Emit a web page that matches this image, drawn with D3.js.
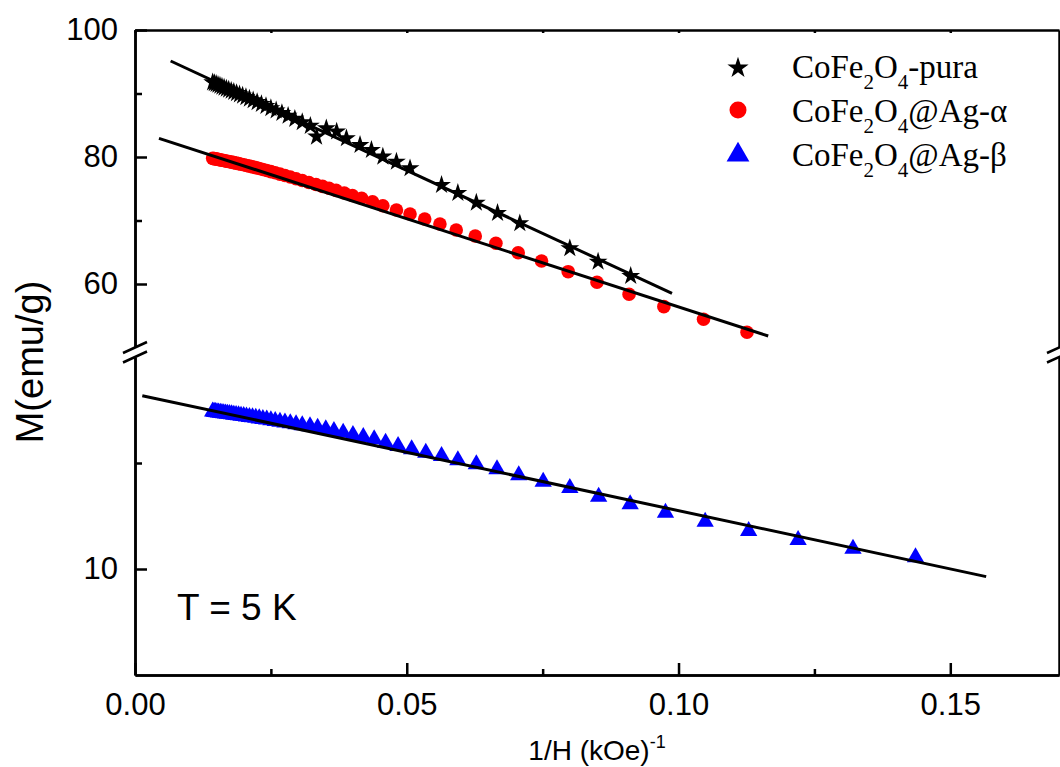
<!DOCTYPE html>
<html>
<head>
<meta charset="utf-8">
<script src="https://d3js.org/d3.v7.min.js"></script>
<style>
body { margin: 0; background: #fff; }
svg text { font-family: Arial, "Liberation Sans", sans-serif; fill: #000; }
.domain, .tick line { stroke: #000; stroke-width: 2.5; }
</style>
</head>
<body>
<div id="chart"></div>
<script>

// CoFe2O4-pura (black stars)
var starX = [0.01429, 0.0146, 0.01493, 0.01527, 0.01563, 0.016, 0.01639, 0.01681, 0.01724, 0.0177,
    0.01818, 0.01869, 0.01923, 0.0198, 0.02041, 0.02105, 0.02174, 0.02247, 0.02326, 0.0241,
    0.025, 0.02597, 0.02703, 0.02817, 0.02941, 0.03077, 0.03226,
    0.0334, 0.0352, 0.0371, 0.0389, 0.0414, 0.0435, 0.0456, 0.0481, 0.0506,
    0.0564, 0.0594, 0.0628, 0.0667, 0.0708, 0.0800, 0.0852, 0.0912];
var starY = [91.75, 91.63, 91.5, 91.36, 91.22, 91.07, 90.92, 90.75, 90.6, 90.42,
    90.25, 90.05, 89.85, 89.65, 89.42, 89.18, 88.92, 88.64, 88.34, 88.02,
    87.68, 87.32, 86.92, 86.48, 86.0, 85.48, 84.9,
    83.2, 84.5, 84.0, 82.94, 81.89, 81.1, 80.05, 79.26, 78.22,
    75.59, 74.33, 72.8, 71.18, 69.56, 65.62, 63.51, 61.26];

// CoFe2O4@Ag-alpha (red circles)
var circX = [0.01429, 0.01455, 0.01481, 0.01509, 0.01538, 0.01569, 0.016, 0.01633, 0.01667, 0.01702,
    0.01739, 0.01778, 0.01818, 0.0186, 0.01905, 0.01951, 0.02, 0.02051, 0.02105, 0.02162,
    0.02222, 0.02286, 0.02353, 0.02424, 0.025, 0.0258, 0.02667, 0.02759, 0.02857, 0.02963,
    0.03077, 0.032, 0.0333, 0.0345, 0.0357, 0.037, 0.0385, 0.04,
    0.0417, 0.0437, 0.0456, 0.0481, 0.0506, 0.0533, 0.0561, 0.0591, 0.0626, 0.0664,
    0.0705, 0.0748, 0.0797, 0.0850, 0.0909, 0.0973, 0.1046, 0.1126];
var circY = [79.79, 79.75, 79.71, 79.66, 79.61, 79.55, 79.5, 79.45, 79.38, 79.32,
    79.26, 79.19, 79.12, 79.04, 78.96, 78.87, 78.78, 78.67, 78.56, 78.45,
    78.32, 78.18, 78.04, 77.88, 77.7, 77.52, 77.3, 77.08, 76.84, 76.58,
    76.3, 75.99, 75.67, 75.37, 75.07, 74.74, 74.34, 73.94,
    73.5, 72.96, 72.33, 71.65, 71.02, 70.24, 69.45, 68.5, 67.56, 66.41,
    64.93, 63.62, 61.94, 60.27, 58.38, 56.43, 54.44, 52.4];

// CoFe2O4@Ag-beta (blue triangles)
var triX = [0.01429, 0.01455, 0.01481, 0.01509, 0.01538, 0.01569, 0.016, 0.01633, 0.01667, 0.01702,
    0.01739, 0.01778, 0.01818, 0.0186, 0.01905, 0.01951, 0.02, 0.02051, 0.02105, 0.02162,
    0.02222, 0.02286, 0.02353, 0.02424, 0.025, 0.0258, 0.02667, 0.02759, 0.02857, 0.02963,
    0.03077, 0.0322, 0.0336, 0.0351, 0.0366, 0.0383, 0.0401, 0.042, 0.044, 0.0461,
    0.0484, 0.0509, 0.0535, 0.0564, 0.0594, 0.0628, 0.0666, 0.0706, 0.0751, 0.0800,
    0.0853, 0.0911, 0.0976, 0.1049, 0.1129, 0.1220, 0.1321, 0.1436];
var triY = [24.85, 24.83, 24.81, 24.79, 24.77, 24.75, 24.72, 24.7, 24.67, 24.65,
    24.62, 24.59, 24.56, 24.53, 24.5, 24.46, 24.43, 24.39, 24.35, 24.31,
    24.26, 24.21, 24.16, 24.1, 24.04, 23.97, 23.9, 23.82, 23.74, 23.65,
    23.55, 23.46, 23.33, 23.19, 23.03, 22.86, 22.64, 22.45, 22.24, 21.92,
    21.6, 21.29, 20.97, 20.66, 20.25, 19.88, 19.41, 18.84, 18.24, 17.64,
    16.82, 16.1, 15.31, 14.46, 13.58, 12.74, 11.92, 11.1];

// linear fits (start, end)
var fitStarX = [0.00656, 0.0988], fitStarY = [95.12, 58.53];
var fitCircX = [0.00441, 0.1165], fitCircY = [82.94, 51.81];
var fitTriX = [0.00134, 0.1566], fitTriY = [26.35, 9.28];

var xMajor = [0, 0.05, 0.10, 0.15];
var xMinor = [0.025, 0.075, 0.125];
var yTopMajor = [60, 80, 100], yTopMinor = [70, 90];
var yBotMajor = [10], yBotMinor = [20];

var legendNames = [["CoFe", "2", "O", "4", "-pura"],
                   ["CoFe", "2", "O", "4", "@Ag-\u03b1"],
                   ["CoFe", "2", "O", "4", "@Ag-\u03b2"]];

var W = 1060, H = 767;
var pLeft = 135, pRight = 1059, pTop = 30, pBottom = 675;

var svg = d3.select("#chart").append("svg")
    .attr("width", W)
    .attr("height", H);

var x = d3.scaleLinear().domain([0, 0.17]).range([pLeft, pRight]);
var yTop = d3.scaleLinear().domain([50, 100]).range([347.5, pTop]);
var yBot = d3.scaleLinear().domain([0, 30]).range([pBottom, 357]);

function pts(xs, ys) {
    return xs.map(function (d, i) { return { x: d, y: ys[i] }; });
}

// axes
svg.append("g").attr("transform", "translate(0," + pBottom + ")")
    .call(d3.axisBottom(x).tickValues(xMajor).tickSize(-12).tickSizeOuter(0)
        .tickPadding(18).tickFormat(d3.format(".2f")));
svg.append("g").attr("transform", "translate(0," + pBottom + ")")
    .call(d3.axisBottom(x).tickValues(xMinor).tickSize(-6).tickSizeOuter(0).tickFormat(""));
svg.append("g").attr("transform", "translate(0," + pTop + ")")
    .call(d3.axisTop(x).tickValues(xMajor.concat(xMinor)).tickSize(-3).tickSizeOuter(0).tickFormat(""));

svg.append("g").attr("transform", "translate(" + pLeft + ",0)")
    .call(d3.axisLeft(yTop).tickValues(yTopMajor).tickSize(-12).tickSizeOuter(0).tickPadding(17));
svg.append("g").attr("transform", "translate(" + pLeft + ",0)")
    .call(d3.axisLeft(yTop).tickValues(yTopMinor).tickSize(-7).tickSizeOuter(0).tickFormat(""));
svg.append("g").attr("transform", "translate(" + pLeft + ",0)")
    .call(d3.axisLeft(yBot).tickValues(yBotMajor).tickSize(-12).tickSizeOuter(0).tickPadding(17));
svg.append("g").attr("transform", "translate(" + pLeft + ",0)")
    .call(d3.axisLeft(yBot).tickValues(yBotMinor).tickSize(-7).tickSizeOuter(0).tickFormat(""));

svg.append("g").attr("transform", "translate(" + pRight + ",0)")
    .call(d3.axisRight(yTop).tickValues([]).tickSizeOuter(0));
svg.append("g").attr("transform", "translate(" + pRight + ",0)")
    .call(d3.axisRight(yBot).tickValues([]).tickSizeOuter(0));

svg.selectAll(".tick text").style("font-size", "31px");

// break marks
[pLeft, pRight].forEach(function (bx) {
    [347.5, 357].forEach(function (by) {
        svg.append("line")
            .attr("x1", bx - 12).attr("y1", by + 5.5)
            .attr("x2", bx + 12).attr("y2", by - 5.5)
            .attr("stroke", "#000").attr("stroke-width", 2.5);
    });
});

// markers
svg.append("g").selectAll("path")
    .data(pts(starX, starY))
    .enter().append("path")
    .attr("transform", function (d) { return "translate(" + x(d.x) + "," + yTop(d.y) + ")"; })
    .attr("d", d3.symbol().type(d3.symbolStar).size(110))
    .attr("fill", "#000");

svg.append("g").selectAll("circle")
    .data(pts(circX, circY))
    .enter().append("circle")
    .attr("cx", function (d) { return x(d.x); })
    .attr("cy", function (d) { return yTop(d.y); })
    .attr("r", 6.8)
    .attr("fill", "#ff0000");

svg.append("g").selectAll("path")
    .data(pts(triX, triY))
    .enter().append("path")
    .attr("transform", function (d) { return "translate(" + x(d.x) + "," + yBot(d.y) + ")"; })
    .attr("d", d3.symbol().type(d3.symbolTriangle).size(130))
    .attr("fill", "#0000ff");

// fit lines
var lineTop = d3.line().x(function (d) { return x(d.x); }).y(function (d) { return yTop(d.y); });
var lineBot = d3.line().x(function (d) { return x(d.x); }).y(function (d) { return yBot(d.y); });
svg.append("path").attr("d", lineTop(pts(fitStarX, fitStarY)))
    .attr("stroke", "#000").attr("stroke-width", 3).attr("fill", "none");
svg.append("path").attr("d", lineTop(pts(fitCircX, fitCircY)))
    .attr("stroke", "#000").attr("stroke-width", 3).attr("fill", "none");
svg.append("path").attr("d", lineBot(pts(fitTriX, fitTriY)))
    .attr("stroke", "#000").attr("stroke-width", 3).attr("fill", "none");

// axis titles
var xt = svg.append("text")
    .attr("x", 597).attr("y", 760)
    .attr("text-anchor", "middle")
    .style("font-size", "28px");
xt.append("tspan").text("1/H (kOe)");
xt.append("tspan").attr("dy", -12).style("font-size", "18px").text("-1");

svg.append("text")
    .attr("transform", "translate(43,362) rotate(-90)")
    .attr("text-anchor", "middle")
    .style("font-size", "38px")
    .text("M(emu/g)");

svg.append("text")
    .attr("x", 177).attr("y", 620)
    .style("font-size", "37px")
    .text("T = 5 K");

// legend
var legY = [68, 110, 155];
var legText = [78, 122, 166];
svg.append("path")
    .attr("transform", "translate(738," + legY[0] + ")")
    .attr("d", d3.symbol().type(d3.symbolStar).size(140))
    .attr("fill", "#000");
svg.append("circle")
    .attr("cx", 738).attr("cy", legY[1]).attr("r", 8.5)
    .attr("fill", "#ff0000");
svg.append("path")
    .attr("transform", "translate(738," + legY[2] + ")")
    .attr("d", d3.symbol().type(d3.symbolTriangle).size(225))
    .attr("fill", "#0000ff");

legendNames.forEach(function (parts, i) {
    var t = svg.append("text")
        .attr("x", 792).attr("y", legText[i])
        .style("font-family", "'Liberation Serif', 'Times New Roman', serif")
        .style("font-size", "33px");
    t.append("tspan").text(parts[0]);
    t.append("tspan").attr("dy", 11).style("font-size", "21px").text(parts[1]);
    t.append("tspan").attr("dy", -11).text(parts[2]);
    t.append("tspan").attr("dy", 11).style("font-size", "21px").text(parts[3]);
    t.append("tspan").attr("dy", -11).text(parts[4]);
});

</script>
</body>
</html>
